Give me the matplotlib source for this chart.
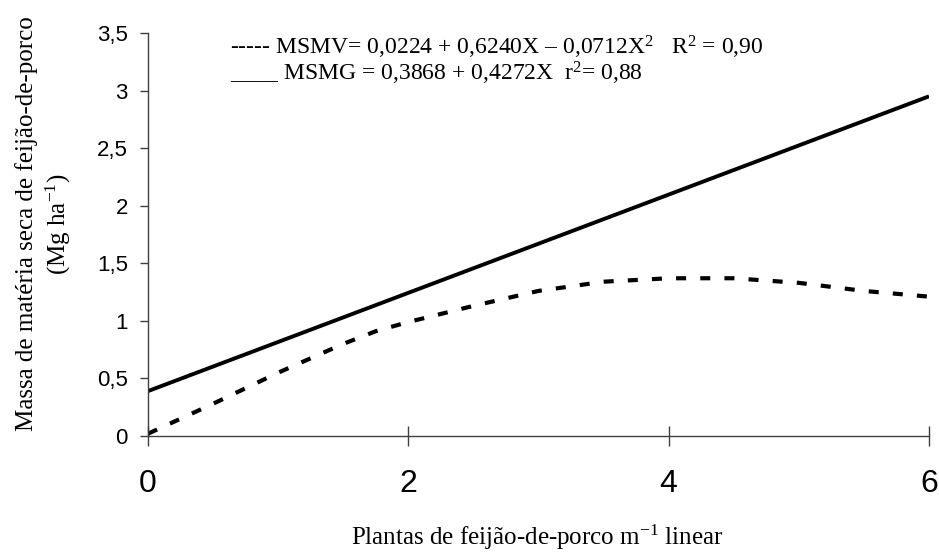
import matplotlib
matplotlib.use("Agg")
import matplotlib.pyplot as plt

plt.rcParams["mathtext.fontset"] = "custom"
plt.rcParams["mathtext.rm"] = "Liberation Serif"
plt.rcParams["mathtext.it"] = "Liberation Serif:italic"

# plants per linear metre
msmv_x = [0, 0.5, 1.0, 1.5, 1.75, 2.0, 2.5, 3.0, 3.5, 4.0, 4.5, 5.0, 5.5, 6.0]
# green manure dry mass, quadratic fit (dashed)
msmv_y = [0.02, 0.28, 0.55, 0.80, 0.91, 0.99, 1.13, 1.26, 1.34, 1.37, 1.37, 1.33, 1.26, 1.21]

msmg_x = [0, 6]
msmg_y = [0.39, 2.95]

x_ticks = [0, 2, 4, 6]
y_ticks = [0, 0.5, 1, 1.5, 2, 2.5, 3, 3.5]
y_tick_labels = ["0", "0,5", "1", "1,5", "2", "2,5", "3", "3,5"]

serif = "Liberation Serif"
sans = "Liberation Sans"

fig = plt.figure(figsize=(9.39, 5.54), dpi=100)
ax = fig.add_axes([148 / 939, 1 - 436 / 554, 781 / 939, 403 / 554])

ax.plot(msmg_x, msmg_y, color="black", linewidth=2.8, solid_capstyle="butt")
ax.plot(msmv_x, msmv_y, color="black", linewidth=3.0,
        dashes=(2.4, 3.4), dash_capstyle="butt")

ax.set_xlim(0, 6)
ax.set_ylim(0, 3.5)

ax.spines["top"].set_visible(False)
ax.spines["right"].set_visible(False)
for side in ["left", "bottom"]:
    ax.spines[side].set_color("#404040")
    ax.spines[side].set_linewidth(1.0)

ax.set_xticks(x_ticks)
ax.set_xticklabels([str(t) for t in x_ticks], fontfamily=sans, fontsize=23)
ax.set_yticks(y_ticks)
ax.set_yticklabels(y_tick_labels, fontfamily=sans, fontsize=16)

ax.tick_params(axis="x", direction="inout", length=14, width=1.0,
               color="#404040", pad=17)
ax.tick_params(axis="y", direction="out", length=5.5, width=1.0,
               color="#404040", pad=9)

fig.text(537 / 939, 1 - 545 / 554,
         "Plantas de feijão-de-porco m$^{-1}$ linear",
         fontfamily=serif, fontsize=18, ha="center", va="baseline")
fig.text(44 / 939, 1 - 224 / 554,
         "Massa de matéria seca de feijão-de-porco\n(Mg ha$^{-1}$)",
         fontfamily=serif, fontsize=18, rotation=90,
         ha="center", va="center", multialignment="center", linespacing=1.3)

fig.text(230 / 939, 1 - 54 / 554,
         "----- MSMV= 0,0224 + 0,6240X – 0,0712X$^{2}$   R$^{2}$ = 0,90",
         fontfamily=serif, fontsize=17, va="baseline")
fig.text(230 / 939, 1 - 80 / 554,
         "____ MSMG = 0,3868 + 0,4272X  r$^{2}$= 0,88",
         fontfamily=serif, fontsize=17, va="baseline")

fig.savefig("out.png", dpi=100)
